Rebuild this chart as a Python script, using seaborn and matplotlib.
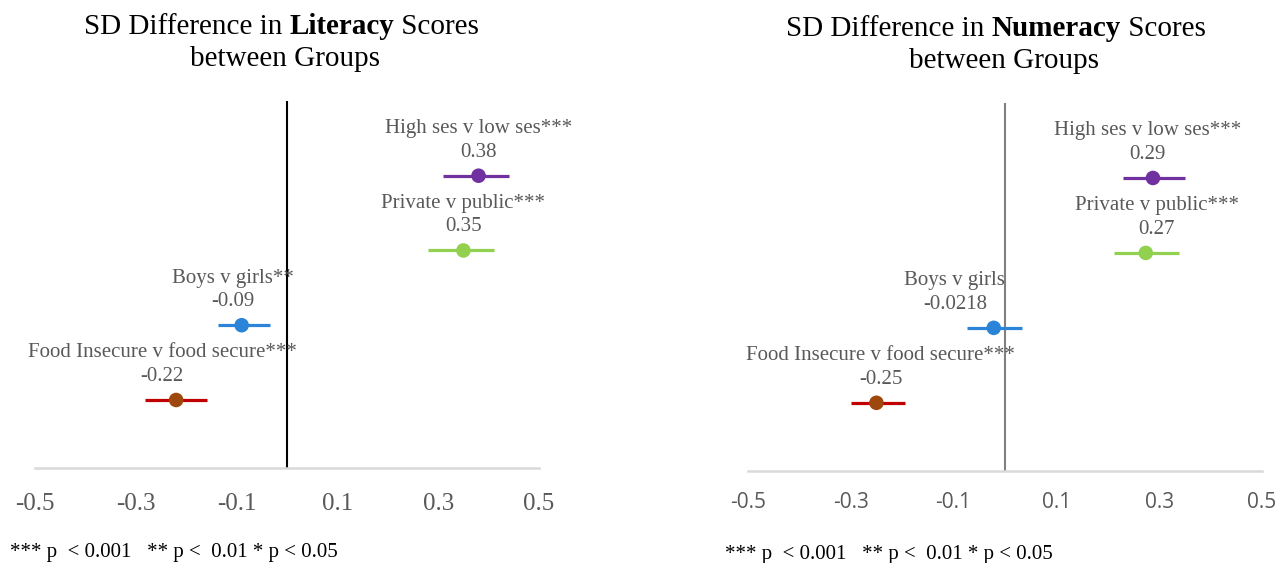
import numpy as np
import pandas as pd
import seaborn as sns
import matplotlib.pyplot as plt

# data
groups = ["High ses v low ses", "Private v public", "Boys v girls", "Food Insecure v food secure"]
rows = [4, 3, 2, 1]

lit_est = [0.38, 0.35, -0.09, -0.22]
lit_lo = [0.31, 0.28, -0.137, -0.282]
lit_hi = [0.44, 0.41, -0.034, -0.159]
lit_stars = ["***", "***", "**", "***"]
lit_values = ["0.38", "0.35", "-0.09", "-0.22"]

num_est = [0.288, 0.274, -0.0218, -0.25]
num_lo = [0.23, 0.212, -0.074, -0.30]
num_hi = [0.35, 0.339, 0.033, -0.195]
num_stars = ["***", "***", "", "***"]
num_values = ["0.29", "0.27", "-0.0218", "-0.25"]

ticks = [-0.5, -0.3, -0.1, 0.1, 0.3, 0.5]

point_colors = ["#7030a0", "#92d050", "#2b84d8", "#9e480e"]
bar_colors = ["#7030a0", "#92d050", "#2b84d8", "#c00000"]

sns.set_theme(style="white")
plt.rcParams['font.family'] = ['Liberation Serif', 'DejaVu Serif']

fig = plt.figure(figsize=(12.77, 5.63), dpi=100)
ax_lit = fig.add_axes([0.0274, 0.1687, 0.3947, 0.652])
ax_num = fig.add_axes([0.5857, 0.1634, 0.4025, 0.6536])

grey = "#595959"


def draw_panel(ax, est, lo, hi, stars, values, label_dx, vline_color, tick_font, tick_size, tick_pad):
    df = pd.DataFrame({"group": groups, "row": rows, "est": est, "lo": lo, "hi": hi})
    ax.hlines(df["row"], df["lo"], df["hi"], colors=bar_colors, lw=2.3, zorder=2)
    sns.scatterplot(data=df, x="est", y="row", hue="group", palette=point_colors,
                    s=110, edgecolor="none", legend=False, ax=ax, zorder=3)
    ax.axvline(0, color=vline_color, lw=1.5, zorder=1)
    for i in range(len(groups)):
        ax.annotate(values[i], (est[i], rows[i]), xytext=(label_dx[i], 17),
                    textcoords="offset points", ha="center", va="center",
                    fontsize=15, color=grey)
        ax.annotate(groups[i] + stars[i], (est[i], rows[i]), xytext=(label_dx[i], 34),
                    textcoords="offset points", ha="center", va="center",
                    fontsize=15, color=grey)
    ax.set_xlim(-0.5, 0.5)
    ax.set_ylim(0.09, 5)
    ax.set_xticks(ticks)
    ax.set_xticklabels([str(t) for t in ticks])
    ax.tick_params(axis="x", length=0, pad=tick_pad, labelsize=tick_size,
                   labelcolor=grey, labelfontfamily=tick_font)
    ax.set_yticks([])
    ax.set_xlabel("")
    ax.set_ylabel("")
    for side in ["top", "left", "right"]:
        ax.spines[side].set_visible(False)
    ax.spines["bottom"].set_color("#d9d9d9")
    ax.spines["bottom"].set_linewidth(1.8)


draw_panel(ax_lit, lit_est, lit_lo, lit_hi, lit_stars, lit_values,
           [0, 0, -6, -10], "black", "Liberation Serif", 18, 18)
draw_panel(ax_num, num_est, num_lo, num_hi, num_stars, num_values,
           [-4, 8, -28, 3], "#808080", "Open Sans", 15, 15)


def title(x_left, y_mid, x_center, word):
    t1 = fig.text(x_left, y_mid, "SD Difference in ", fontsize=21, color="black",
                  ha="left", va="center")
    t2 = ax_lit.annotate(word, xy=(1, 0), xycoords=t1, va="bottom", ha="left",
                         fontsize=21, weight="bold", color="black", annotation_clip=False)
    ax_lit.annotate(" Scores", xy=(1, 0), xycoords=t2, va="bottom", ha="left",
                    fontsize=21, color="black", annotation_clip=False)
    fig.text(x_center, y_mid - 32 / 563, "between Groups", fontsize=21, color="black",
             ha="center", va="center")


title(84 / 1277, 1 - 27 / 563, 285 / 1277, "Literacy")
title(786 / 1277, 1 - 29 / 563, 1004 / 1277, "Numeracy")

foot = "*** p  < 0.001   ** p <  0.01 * p < 0.05"
fig.text(10 / 1277, 1 - 552 / 563, foot, fontsize=15, color="black", ha="left", va="center")
fig.text(725 / 1277, 1 - 554 / 563, foot, fontsize=15, color="black", ha="left", va="center")

fig.savefig("out.png", dpi=100)
